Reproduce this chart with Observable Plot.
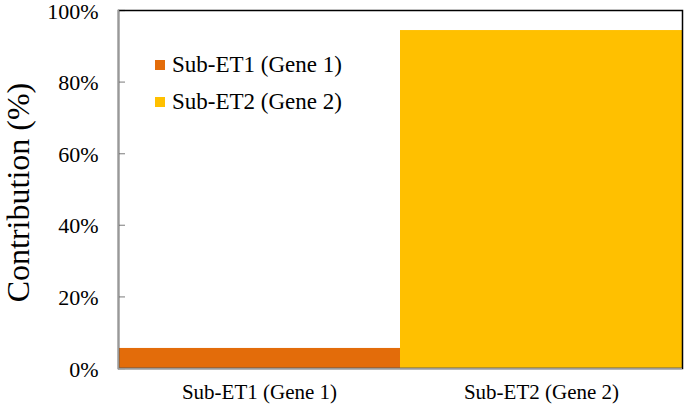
<!DOCTYPE html>
<html>
<head>
<meta charset="utf-8">
<script src="https://cdn.jsdelivr.net/npm/d3@7"></script>
<script src="https://cdn.jsdelivr.net/npm/@observablehq/plot@0.6"></script>
<style>
  html, body { margin: 0; padding: 0; background: #fff; }
  #wrap { position: relative; width: 685px; height: 404px; font-family: "Liberation Serif", "Times New Roman", serif; }
  #legend { position: absolute; left: 155px; top: 46px; font-size: 23px; color: #000; font-family: "Liberation Serif", serif; }
  #legend .row { display: flex; align-items: center; height: 37px; }
  #legend .sw { width: 10px; height: 10px; margin-right: 7px; }
</style>
</head>
<body>
<div id="wrap"></div>
<script>
const categories = ["Sub-ET1 (Gene 1)", "Sub-ET2 (Gene 2)"];
const values = [5.6, 94.4];
const colors = ["#E36C0A", "#FFC000"];
const yTicks = [0, 20, 40, 60, 80, 100];
const yLabel = "Contribution (%)";

const data = categories.map((c, i) => ({category: c, value: values[i]}));
const W = 685, H = 404, mL = 118, mR = 3, mT = 10, mB = 36;
const plotW = W - mL - mR;

const chart = Plot.plot({
  width: W,
  height: H,
  marginLeft: mL,
  marginRight: mR,
  marginTop: mT,
  marginBottom: mB,
  style: {fontFamily: "Liberation Serif, Times New Roman, serif", background: "#fff", color: "#000", overflow: "visible"},
  x: {domain: categories, padding: 0, label: null},
  y: {domain: [0, 100], label: null},
  color: {domain: categories, range: colors},
  marks: [
    Plot.ruleY(yTicks, {stroke: "#999", strokeWidth: 1.3, insetRight: plotW - 7}),
    Plot.barY(data, {x: "category", y: "value", fill: "category"}),
    Plot.frame({stroke: "#000", strokeWidth: 1.5}),
    Plot.frame({anchor: "left", stroke: "#999", strokeWidth: 1.5}),
    Plot.ruleY([0], {stroke: "#999", strokeWidth: 1.5}),
    Plot.axisY({ticks: yTicks, tickSize: 0, tickPadding: 20, tickFormat: d => d + "%", fontSize: 22, dy: 1, label: null}),
    Plot.axisX({tickSize: 0, tickPadding: 16, fontSize: 21, label: null}),
    Plot.text([yLabel], {text: d => d, frameAnchor: "left", rotate: -90, dx: -100, dy: 3, fontSize: 32, textAnchor: "middle"})
  ]
});
document.getElementById("wrap").appendChild(chart);

const legend = document.createElement("div");
legend.id = "legend";
categories.forEach((c, i) => {
  const row = document.createElement("div");
  row.className = "row";
  const sw = document.createElement("span");
  sw.className = "sw";
  sw.style.background = colors[i];
  const t = document.createElement("span");
  t.textContent = c;
  row.appendChild(sw);
  row.appendChild(t);
  legend.appendChild(row);
});
document.getElementById("wrap").appendChild(legend);
</script>
</body>
</html>
